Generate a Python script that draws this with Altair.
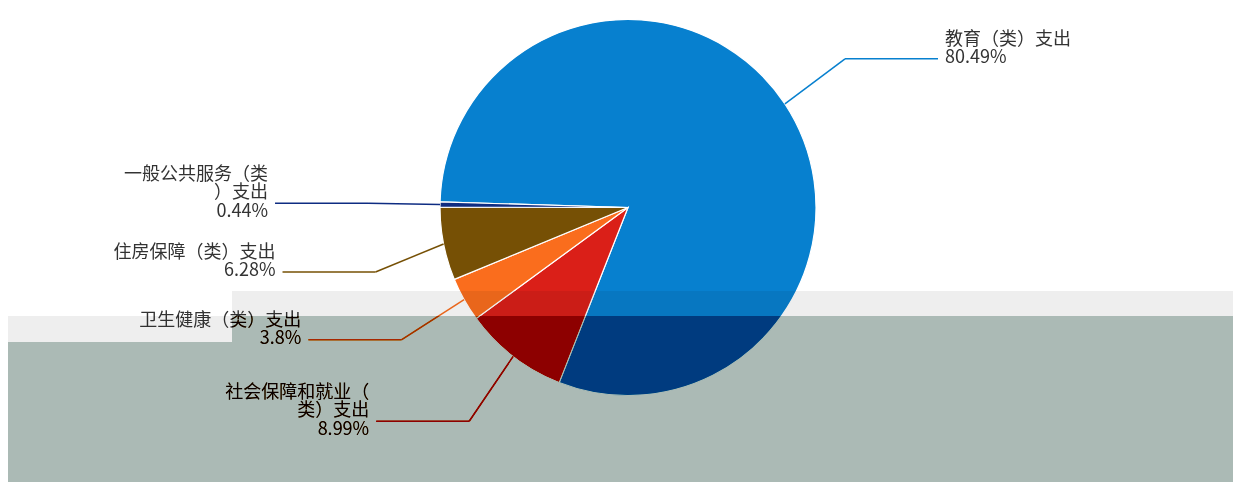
import math
import altair as alt
import pandas as pd

# ---- data ----
names = ["教育（类）支出", "社会保障和就业（类）支出", "卫生健康（类）支出",
         "住房保障（类）支出", "一般公共服务（类）支出"]
label_lines = ["教育（类）支出", "社会保障和就业（\n类）支出", "卫生健康（类）支出",
               "住房保障（类）支出", "一般公共服务（类\n）支出"]
shares = [80.49, 8.99, 3.8, 6.28, 0.44]
colors = ["#0780cf", "#da1f18", "#fa6d1d", "#765005", "#0e2c82"]

df = pd.DataFrame({"name": names, "label": label_lines, "share": shares,
                   "idx": list(range(len(names)))})

# ---- layout / style ----
W, H = 1225, 474
CX, CY = 620, 199.5
R = 188            # pie radius
RX2, RY2 = 260, 270  # leader-line elbow ellipse
L2 = 93            # horizontal leader length
GAP = 7            # gap between leader end and text
LH = 18.5          # text line height
G = 22.5           # minimum vertical spacing between neighbouring labels
A0 = math.radians(271.7)   # start angle of first slice (clockwise from top)
FONT = "Noto Sans CJK SC"

color = alt.Color("name:N", scale=alt.Scale(domain=names, range=colors), legend=None)

base = (
    alt.Chart(df)
    .transform_window(cum="sum(share)", sort=[alt.SortField("idx")], frame=[None, 0])
    .transform_joinaggregate(total="sum(share)")
    .transform_calculate(t0=f"{A0} + 2*PI*(datum.cum - datum.share)/datum.total")
    .transform_calculate(t1=f"{A0} + 2*PI*datum.cum/datum.total")
    .transform_calculate(tm="(datum.t0 + datum.t1)/2")
    .transform_calculate(ex=f"{CX} + {R}*sin(datum.tm)")
    .transform_calculate(ey=f"{CY} - {R}*cos(datum.tm)")
    .transform_calculate(by0=f"{CY} - {RY2}*cos(datum.tm)")
    .transform_calculate(side="sin(datum.tm) >= 0 ? 1 : -1")
    # push labels apart (running max) so text blocks do not overlap
    .transform_calculate(n="length(split(datum.label, '\\n')) + 1")
    .transform_calculate(h=f"datum.n * {LH / 2}")
    .transform_calculate(span=f"2*datum.h + {G}")
    .transform_window(A="sum(span)", groupby=["side"], sort=[alt.SortField("by0")], frame=[None, 0])
    .transform_calculate(q="datum.A - datum.h")
    .transform_calculate(r="datum.by0 - datum.q")
    .transform_window(m="max(r)", groupby=["side"], sort=[alt.SortField("by0")], frame=[None, 0])
    .transform_calculate(by="datum.q + datum.m")
    .transform_calculate(bx=f"{CX} + datum.side*{RX2}*sqrt(max(0, 1 - pow((datum.by - {CY})/{RY2}, 2)))")
    .transform_calculate(hx=f"datum.bx + datum.side*{L2}")
    .transform_calculate(tx=f"datum.hx + datum.side*{GAP}")
    .transform_calculate(ty=f"datum.by - 10 - (datum.n - 1)*{LH / 2}")
    .transform_calculate(txt="datum.label + '\\n' + datum.share + '%'")
)

arcs = base.mark_arc(outerRadius=R, stroke="white", strokeWidth=1.2).encode(
    theta=alt.Theta("t0:Q", scale=None, stack=None),
    theta2=alt.Theta2("t1:Q"),
    color=color,
    x=alt.value(CX),
    y=alt.value(CY),
)

leg1 = base.mark_rule(strokeWidth=1.5).encode(
    x=alt.X("ex:Q", scale=None, axis=None),
    y=alt.Y("ey:Q", scale=None, axis=None),
    x2="bx:Q", y2="by:Q", color=color,
)
leg2 = base.mark_rule(strokeWidth=1.5).encode(
    x=alt.X("bx:Q", scale=None, axis=None),
    y=alt.Y("by:Q", scale=None, axis=None),
    x2="hx:Q", color=color,
)

text_kw = dict(baseline="middle", fontSize=18, lineHeight=LH, font=FONT,
               color="#333333", lineBreak="\n")
text_left = base.transform_filter("datum.side < 0").mark_text(align="right", **text_kw).encode(
    x=alt.X("tx:Q", scale=None, axis=None), y=alt.Y("ty:Q", scale=None, axis=None), text="txt:N")
text_right = base.transform_filter("datum.side > 0").mark_text(align="left", **text_kw).encode(
    x=alt.X("tx:Q", scale=None, axis=None), y=alt.Y("ty:Q", scale=None, axis=None), text="txt:N")

# ---- grey screen overlay seen in the reference ----
one = alt.Data(values=[{"k": 1}])
def band(x0, x1, y0, y1, fill, blend):
    return alt.Chart(one).mark_rect(color=fill, blend=blend).encode(
        x=alt.value(x0), x2=alt.value(x1), y=alt.value(y0), y2=alt.value(y1))

overlays = [
    band(224, W, 283, 308, "#eeeeee", "multiply"),
    band(0, 224, 308, 334, "#eeeeee", "multiply"),
    band(224, W, 308, H, "#d6b9a1", "color-burn"),
    band(0, 224, 334, H, "#d6b9a1", "color-burn"),
    band(224, W, 308, H, "#abbab5", "multiply"),
    band(0, 224, 334, H, "#abbab5", "multiply"),
]

chart = alt.layer(arcs, leg1, leg2, text_left, text_right, *overlays).properties(
    width=W, height=H, padding=0, autosize="none", background="white"
).configure_view(stroke=None, strokeWidth=0)

chart.save("out.html", embed_options={"renderer": "svg", "actions": False})
